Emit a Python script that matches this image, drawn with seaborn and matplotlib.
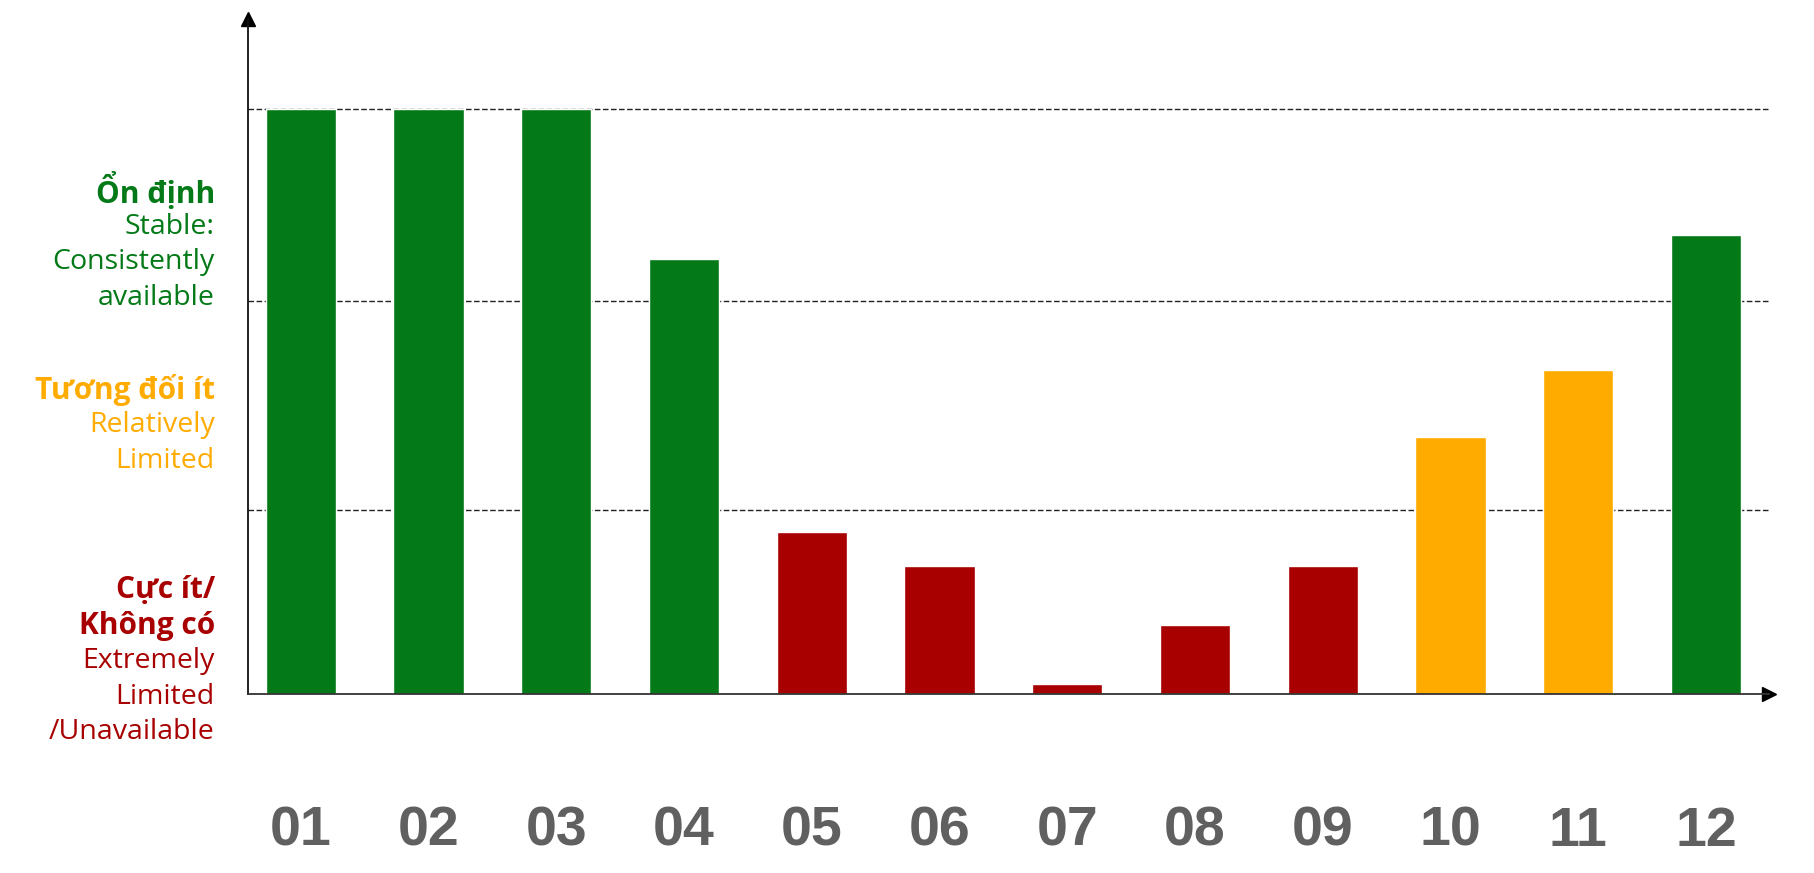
import matplotlib
matplotlib.use('Agg')
import matplotlib.pyplot as plt
import seaborn as sns
import pandas as pd

# data (scale: 100 = "stable" line)
months = ['01', '02', '03', '04', '05', '06', '07', '08', '09', '10', '11', '12']
values = [100, 100, 100, 74.4, 27.7, 21.9, 1.8, 11.8, 21.9, 43.9, 55.4, 78.5]
levels = ['stable', 'stable', 'stable', 'stable', 'extreme', 'extreme', 'extreme',
          'extreme', 'extreme', 'relative', 'relative', 'stable']
thresholds = [100, 67.2, 31.5]

GREEN = '#037a17'
ORANGE = '#ffab00'
RED = '#a80000'
palette = {'stable': GREEN, 'relative': ORANGE, 'extreme': RED}

# left-hand level labels: (text, colour, bold)
level_labels = [
    [('Ổn định', GREEN, True), ('Stable:', GREEN, False),
     ('Consistently', GREEN, False), ('available', GREEN, False)],
    [('Tương đối ít', ORANGE, True), ('Relatively', ORANGE, False),
     ('Limited', ORANGE, False)],
    [('Cực ít/', RED, True), ('Không có', RED, True), ('Extremely', RED, False),
     ('Limited', RED, False), ('/Unavailable', RED, False)],
]
label_centres = [76.9, 46.0, 5.6]

df = pd.DataFrame({'month': months, 'value': values, 'level': levels})

sns.set_style('white')
plt.rcParams['font.family'] = ['Open Sans', 'DejaVu Sans']

fig = plt.figure(figsize=(18.14, 8.73), dpi=100)
ax = fig.add_axes([0.1365, 0.205, 0.8385, 0.773])

sns.barplot(data=df, x='month', y='value', hue='level', palette=palette,
            dodge=False, width=0.55, legend=False, saturation=1, ax=ax,
            order=months)

for t in thresholds:
    ax.axhline(t, color='#222222', lw=1.0, ls=(0, (4, 1.8)), zorder=0.5)

ax.set_xlim(-0.416, 11.49)
ax.set_ylim(0, 115.4)
ax.set_xlabel('')
ax.set_ylabel('')
ax.set_yticks([])

for side in ['top', 'right']:
    ax.spines[side].set_visible(False)
ax.spines['left'].set_color('#111111')
ax.spines['bottom'].set_color('#333333')
ax.spines['left'].set_linewidth(1.3)
ax.spines['bottom'].set_linewidth(1.3)

# arrow heads on the axes
ax.plot(1, 0, '>', color='black', ms=10, transform=ax.transAxes, clip_on=False)
ax.plot(0, 1, '^', color='black', ms=10, transform=ax.transAxes, clip_on=False)

ax.tick_params(axis='x', length=0, pad=80.5)
for lbl in ax.get_xticklabels():
    lbl.set_fontfamily('Liberation Sans')
    lbl.set_fontweight('bold')
    lbl.set_fontsize(40)
    lbl.set_color('#606060')

# level labels to the left of the y axis
trans = ax.get_yaxis_transform()
line_h = 35.5 / 585 * 100
for group, yc in zip(level_labels, label_centres):
    n = len(group)
    for i, (txt, col, bold) in enumerate(group):
        y = yc + ((n - 1) / 2 - i) * line_h
        ax.text(-0.0215, y, txt, transform=trans, ha='right', va='center',
                color=col, fontsize=21.5 if bold else 20.5,
                fontweight='bold' if bold else 'normal', clip_on=False)

fig.savefig('out.png', dpi=100)
